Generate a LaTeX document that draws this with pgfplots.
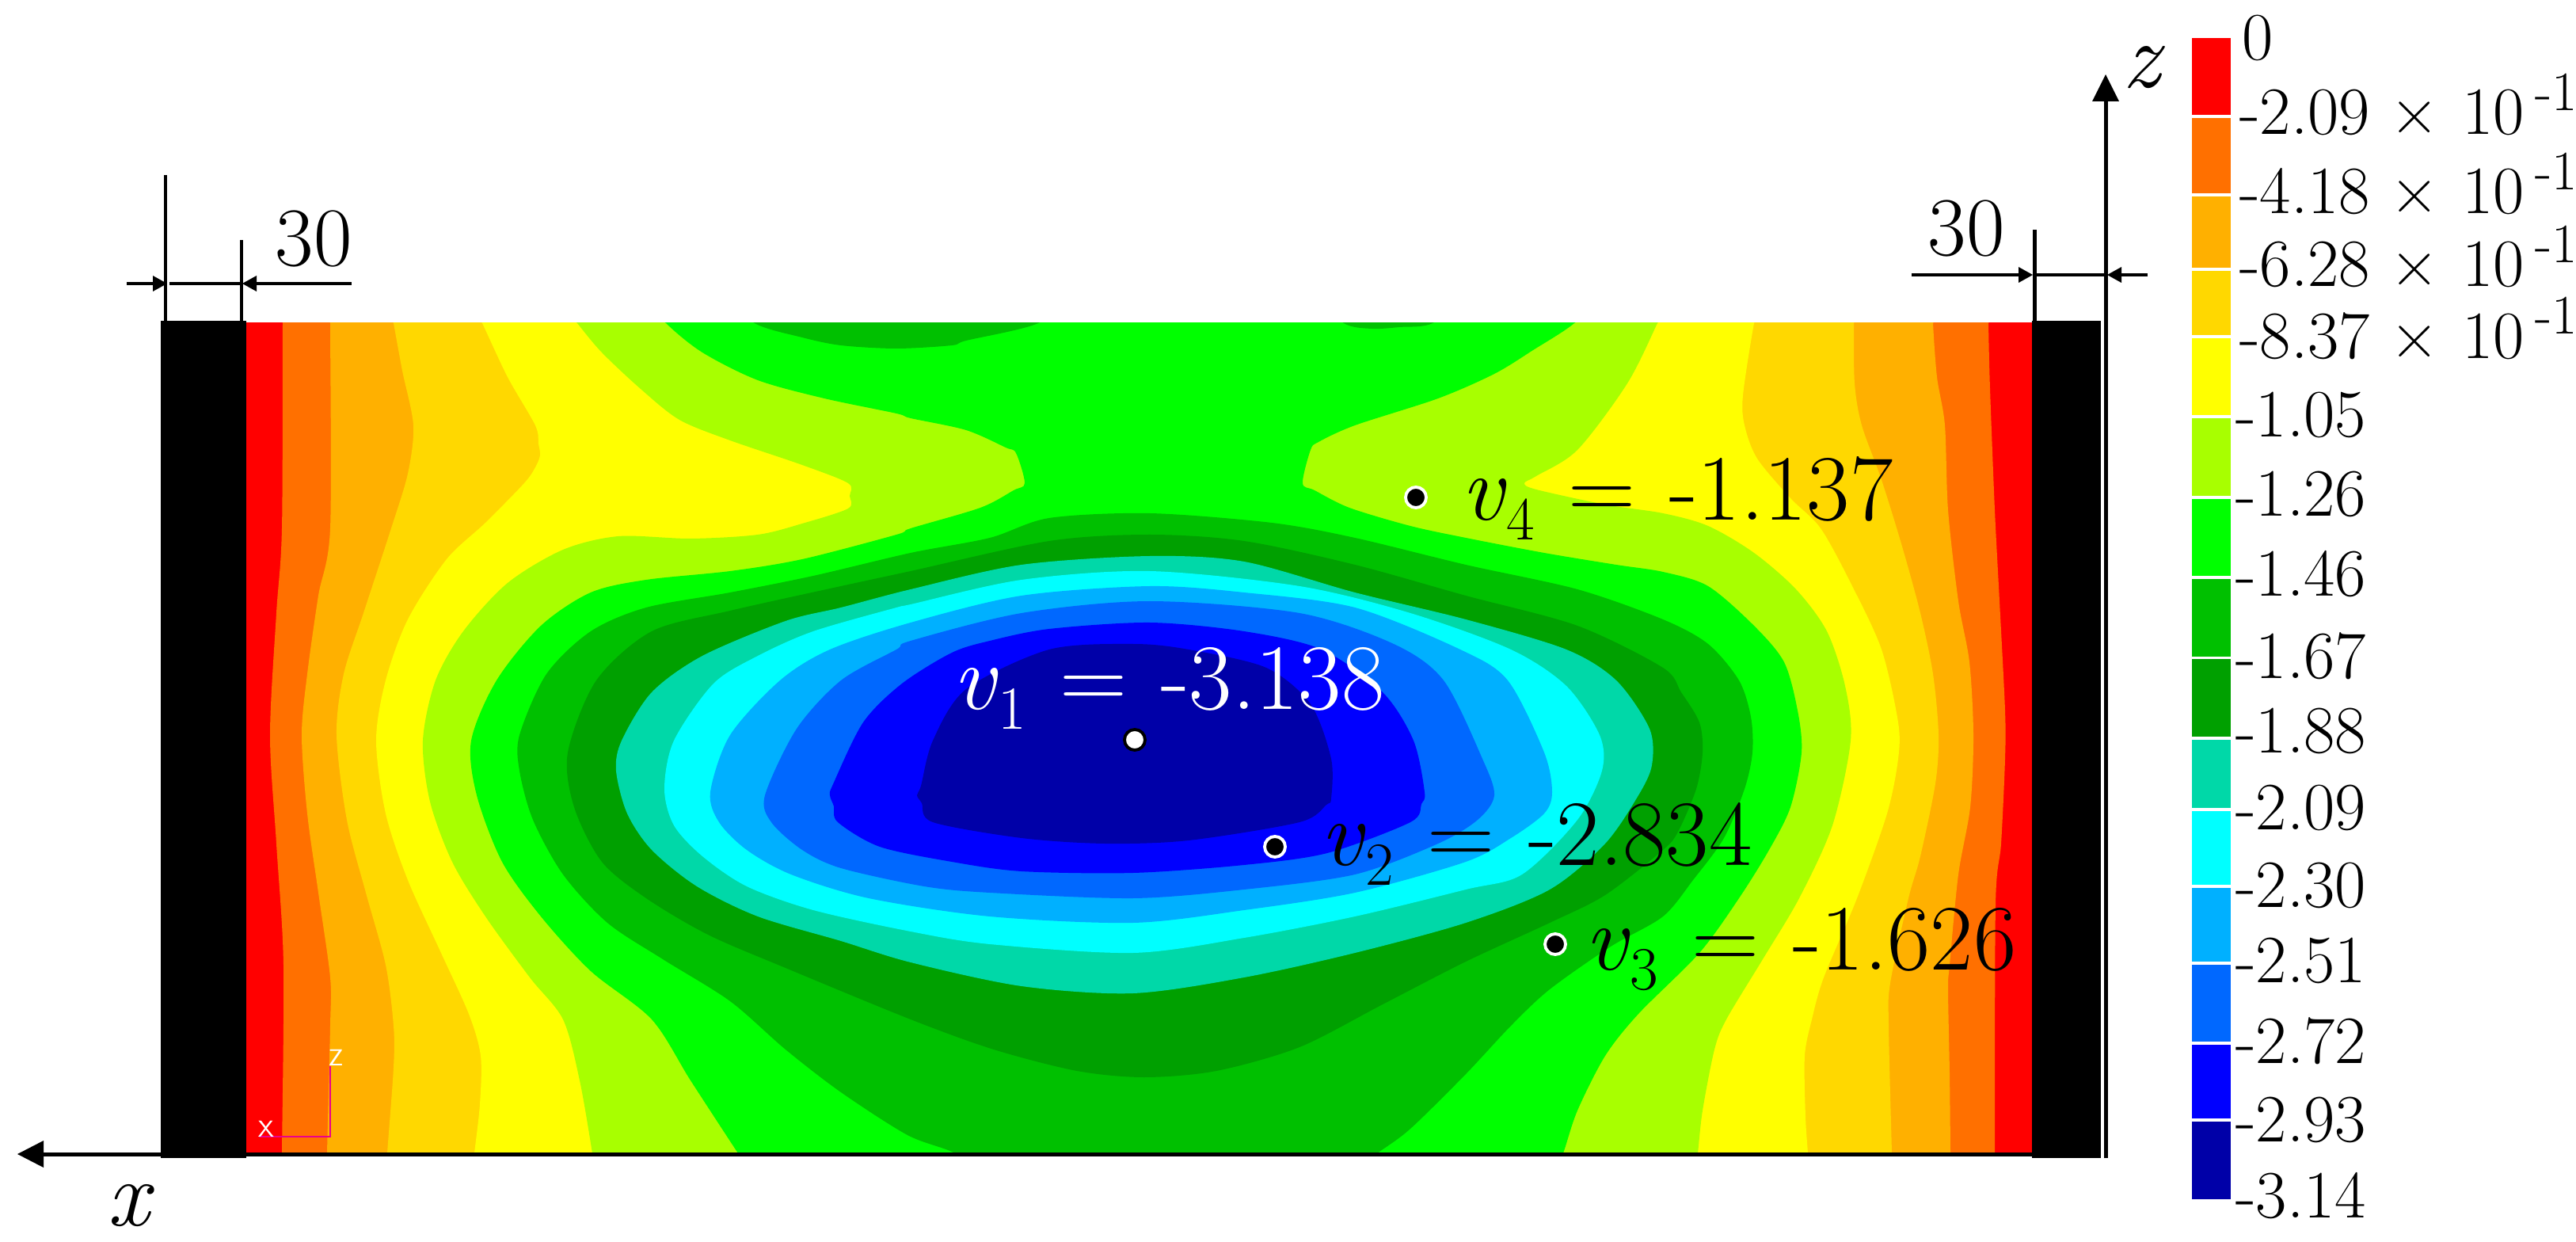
\documentclass[border=0pt]{standalone}
\usepackage{pgfplots}
\pgfplotsset{compat=1.18}
\definecolor{c01}{RGB}{255,0,0}
\definecolor{c02}{RGB}{255,112,0}
\definecolor{c03}{RGB}{255,176,0}
\definecolor{c04}{RGB}{255,216,0}
\definecolor{c05}{RGB}{255,255,0}
\definecolor{c06}{RGB}{168,255,0}
\definecolor{c07}{RGB}{0,255,0}
\definecolor{c08}{RGB}{0,192,0}
\definecolor{c09}{RGB}{0,160,0}
\definecolor{c10}{RGB}{0,216,168}
\definecolor{c11}{RGB}{0,255,255}
\definecolor{c12}{RGB}{0,176,255}
\definecolor{c13}{RGB}{0,104,255}
\definecolor{c14}{RGB}{0,0,255}
\definecolor{c15}{RGB}{0,0,168}
\newcommand{\fbig}{\fontsize{33.6}{40}\selectfont}
\newcommand{\fdim}{\fontsize{30}{36}\selectfont}
\newcommand{\fbar}{\fontsize{24.3}{29}\selectfont}
\newcommand{\tenm}{\hspace{0.3em}×\hspace{0.35em}10\hspace{0.15em}\raisebox{0.36em}{\fontsize{20}{24}\selectfont -1}}
\newcommand{\vv}[1]{\textit{v}\raisebox{-0.22em}{\fontsize{22}{26}\selectfont #1}\hspace{0.36em}=\hspace{0.36em}}
\tikzset{lab/.style={anchor=base west,inner sep=0pt,outer sep=0pt,font=\fbar,text=black}}
\pgfplotsset{reg/.style={fill=#1,draw=none,no markers,forget plot},
  con/.style={fill=#1,draw=none,no markers,forget plot,smooth cycle,tension=0.5}}
\begin{document}
\begin{tikzpicture}
\path[use as bounding box] (0,0) rectangle (32.53cm,15.68cm);
% contour field: same picture-pixel coordinates, clipped to the plate
\begin{axis}[at={(3.11cm,1.12cm)},anchor=south west,hide axis,scale only axis,width=22.56cm,height=10.48cm,
  xmin=311,xmax=2567,ymin=408,ymax=1456,y dir=reverse,clip=true]
\addplot[reg=c01] coordinates {(300,400)(2600,400)(2600,1470)(300,1470)} -- cycle;
\addplot[con=c02] coordinates {(357,370)(357,408)(356,667)(349,774)(341,928)(349,1065)(358,1218)(356,1456)(356,1490)(2519,1490)(2519,1456)(2520,1142)(2527,1065)(2532,958)(2532,897)(2525,759)(2519,644)(2513,491)(2511,408)(2511,370)};
\addplot[con=c03] coordinates {(417,370)(417,408)(417,667)(402,752)(388,851)(381,928)(388,1027)(402,1127)(417,1234)(417,1295)(413,1456)(413,1490)(2463,1490)(2463,1456)(2462,1356)(2460,1249)(2462,1218)(2473,1104)(2488,1019)(2492,928)(2487,836)(2473,759)(2460,644)(2456,537)(2446,476)(2441,408)(2441,370)};
\addplot[con=c04] coordinates {(490,370)(497,408)(508,468)(522,537)(515,598)(494,667)(459,774)(434,851)(425,928)(438,1035)(462,1127)(487,1218)(497,1295)(497,1348)(489,1456)(487,1490)(2390,1490)(2389,1456)(2385,1295)(2387,1241)(2410,1134)(2425,1081)(2444,989)(2448,928)(2441,851)(2425,774)(2402,690)(2376,606)(2351,537)(2342,484)(2341,408)(2341,370)};
\addplot[con=c05] coordinates {(590,370)(609,408)(641,476)(676,537)(680,560)(682,575)(676,590)(662,610)(613,660)(564,706)(515,782)(487,859)(475,935)(487,1027)(515,1111)(557,1203)(592,1280)(607,1333)(606,1394)(599,1456)(595,1490)(2285,1490)(2283,1456)(2280,1410)(2279,1333)(2288,1287)(2303,1234)(2345,1134)(2383,1027)(2397,958)(2397,912)(2376,820)(2337,736)(2299,667)(2261,629)(2219,579)(2203,537)(2201,499)(2215,408)(2225,370)};
\addplot[con=c06] coordinates {(700,370)(729,408)(760,445)(809,491)(858,530)(922,556)(1013,587)(1071,610)(1073,626)(1071,642)(1013,661)(957,675)(872,680)(781,677)(711,694)(641,736)(585,797)(550,859)(534,935)(543,1012)(571,1088)(613,1157)(669,1234)(711,1287)(732,1364)(748,1456)(752,1490)(2140,1490)(2144,1456)(2150,1402)(2165,1325)(2180,1287)(2226,1211)(2272,1134)(2314,1042)(2337,935)(2330,866)(2307,797)(2268,744)(2215,698)(2157,664)(2100,648)(2027,637)(1940,618)(1925,610)(1940,601)(1992,568)(2055,484)(2093,408)(2110,370)};
\addplot[con=c07] coordinates {(810,370)(841,408)(887,445)(957,480)(1041,503)(1132,522)(1150,528)(1220,543)(1270,565)(1283,572)(1294,610)(1280,619)(1238,641)(1150,667)(1132,675)(1013,706)(922,721)(816,732)(746,748)(683,790)(627,859)(595,935)(602,1004)(634,1088)(683,1157)(746,1226)(823,1287)(872,1364)(932,1456)(955,1490)(1960,1490)(1974,1456)(1992,1402)(2027,1333)(2069,1280)(2146,1203)(2196,1134)(2234,1073)(2261,1019)(2275,950)(2270,897)(2253,836)(2215,790)(2157,740)(2100,722)(2041,713)(1950,698)(1851,679)(1781,664)(1704,641)(1660,619)(1645,610)(1655,568)(1665,558)(1711,537)(1816,503)(1887,472)(1936,442)(1988,408)(2020,370)};
\addplot[con=c08] coordinates {(920,370)(953,408)(1013,426)(1062,436)(1132,440)(1202,436)(1220,430)(1311,408)(1350,370)};
\addplot[con=c08] coordinates {(1660,370)(1697,408)(1732,415)(1767,413)(1809,408)(1850,370)};
\addplot[con=c08] coordinates {(1452,648)(1325,654)(1250,679)(1150,698)(1027,727)(922,748)(816,767)(746,797)(690,851)(656,928)(656,973)(673,1035)(711,1104)(767,1165)(837,1211)(922,1264)(992,1325)(1062,1379)(1146,1433)(1206,1456)(1250,1490)(1690,1490)(1739,1456)(1781,1425)(1851,1356)(1908,1295)(1957,1249)(2034,1195)(2100,1157)(2138,1111)(2177,1058)(2203,996)(2213,950)(2211,905)(2196,859)(2157,813)(2100,782)(1992,744)(1851,713)(1711,679)(1606,660)};
\addplot[con=c09] coordinates {(1452,675)(1325,683)(1150,721)(1062,740)(922,771)(823,797)(753,859)(717,950)(725,1019)(760,1088)(816,1134)(894,1180)(992,1222)(1150,1287)(1255,1325)(1360,1352)(1445,1360)(1536,1352)(1641,1322)(1746,1268)(1851,1214)(1957,1165)(2027,1130)(2100,1073)(2119,1050)(2142,996)(2150,950)(2146,912)(2123,874)(2100,843)(1992,790)(1851,752)(1711,713)(1571,683)};
\addplot[con=c10] coordinates {(1452,702)(1290,713)(1150,744)(1062,767)(992,784)(887,828)(823,874)(785,935)(778,973)(792,1027)(823,1073)(880,1119)(957,1157)(1062,1188)(1150,1215)(1290,1245)(1431,1254)(1571,1234)(1711,1203)(1851,1165)(1957,1123)(2027,1065)(2069,1004)(2086,966)(2083,920)(2041,859)(1978,820)(1851,782)(1711,748)(1571,709)};
\addplot[con=c11] coordinates {(1452,721)(1290,732)(1150,763)(1132,767)(1027,797)(957,828)(901,863)(851,935)(839,996)(851,1042)(887,1081)(943,1119)(1027,1149)(1150,1176)(1250,1192)(1431,1203)(1571,1184)(1711,1157)(1851,1123)(1922,1104)(1992,1035)(2023,973)(2020,928)(1978,866)(1908,820)(1781,774)(1641,740)};
\addplot[con=c12] coordinates {(1452,740)(1290,752)(1150,786)(1048,820)(985,859)(922,928)(897,1000)(908,1038)(943,1073)(999,1104)(1097,1134)(1250,1157)(1431,1165)(1571,1149)(1711,1127)(1851,1088)(1908,1058)(1950,1027)(1960,1000)(1950,950)(1904,859)(1844,820)(1711,767)(1571,748)};
\addplot[con=c13] coordinates {(1452,759)(1290,774)(1150,809)(1132,820)(1062,859)(1006,920)(966,1004)(974,1038)(1013,1073)(1062,1096)(1167,1119)(1250,1127)(1431,1134)(1571,1123)(1711,1104)(1816,1065)(1866,1035)(1887,1004)(1872,958)(1823,859)(1760,813)(1641,774)};
\addplot[con=c14] coordinates {(1452,786)(1325,794)(1250,809)(1202,824)(1139,863)(1090,912)(1052,990)(1048,1004)(1053,1018)(1058,1038)(1111,1069)(1202,1088)(1290,1100)(1431,1102)(1571,1092)(1676,1077)(1781,1038)(1795,1015)(1799,1000)(1785,935)(1746,874)(1669,820)(1571,797)};
\addplot[con=c15] coordinates {(1163,992)(1158,1004)(1164,1014)(1178,1038)(1290,1058)(1395,1065)(1501,1061)(1641,1038)(1675,1016)(1681,1008)(1681,958)(1655,889)(1599,843)(1501,820)(1431,813)(1325,820)(1220,870)(1178,935)};
\end{axis}
\begin{axis}[at={(0,0)},anchor=south west,hide axis,scale only axis,width=32.53cm,height=15.68cm,
  xmin=0,xmax=3253,ymin=0,ymax=1568,y dir=reverse,clip=false]
% supports
\addplot[reg=black] coordinates {(203,405)(311,405)(311,1462)(203,1462)} -- cycle;
\addplot[reg=black] coordinates {(2566,405)(2653,405)(2653,1462)(2566,1462)} -- cycle;
% colour bar
\addplot[reg=c01] coordinates {(2768,48)(2817,48)(2817,145)(2768,145)} -- cycle;
\addplot[reg=c02] coordinates {(2768,149)(2817,149)(2817,244)(2768,244)} -- cycle;
\addplot[reg=c03] coordinates {(2768,248)(2817,248)(2817,338)(2768,338)} -- cycle;
\addplot[reg=c04] coordinates {(2768,342)(2817,342)(2817,423)(2768,423)} -- cycle;
\addplot[reg=c05] coordinates {(2768,427)(2817,427)(2817,524)(2768,524)} -- cycle;
\addplot[reg=c06] coordinates {(2768,528)(2817,528)(2817,626)(2768,626)} -- cycle;
\addplot[reg=c07] coordinates {(2768,630)(2817,630)(2817,727)(2768,727)} -- cycle;
\addplot[reg=c08] coordinates {(2768,731)(2817,731)(2817,829)(2768,829)} -- cycle;
\addplot[reg=c09] coordinates {(2768,832)(2817,832)(2817,930)(2768,930)} -- cycle;
\addplot[reg=c10] coordinates {(2768,934)(2817,934)(2817,1020)(2768,1020)} -- cycle;
\addplot[reg=c11] coordinates {(2768,1024)(2817,1024)(2817,1117)(2768,1117)} -- cycle;
\addplot[reg=c12] coordinates {(2768,1121)(2817,1121)(2817,1214)(2768,1214)} -- cycle;
\addplot[reg=c13] coordinates {(2768,1218)(2817,1218)(2817,1315)(2768,1315)} -- cycle;
\addplot[reg=c14] coordinates {(2768,1319)(2817,1319)(2817,1412)(2768,1412)} -- cycle;
\addplot[reg=c15] coordinates {(2768,1416)(2817,1416)(2817,1514)(2768,1514)} -- cycle;
\node[lab] at (axis cs:2831,76) {0};
\node[lab] at (axis cs:2828,170) {-2.09\tenm};
\node[lab] at (axis cs:2828,270) {-4.18\tenm};
\node[lab] at (axis cs:2828,362) {-6.28\tenm};
\node[lab] at (axis cs:2828,452) {-8.37\tenm};
\node[lab] at (axis cs:2823,551) {-1.05};
\node[lab] at (axis cs:2823,651) {-1.26};
\node[lab] at (axis cs:2823,752) {-1.46};
\node[lab] at (axis cs:2823,856) {-1.67};
\node[lab] at (axis cs:2823,950) {-1.88};
\node[lab] at (axis cs:2823,1047) {-2.09};
\node[lab] at (axis cs:2823,1145) {-2.30};
\node[lab] at (axis cs:2823,1240) {-2.51};
\node[lab] at (axis cs:2823,1342) {-2.72};
\node[lab] at (axis cs:2823,1441) {-2.93};
\node[lab] at (axis cs:2823,1537) {-3.14};
% triad
\draw[magenta,line width=0.55pt] (axis cs:327,1435) -- (axis cs:417,1435) -- (axis cs:417,1346);
\node[anchor=base,inner sep=0pt,text=white,font=\fontsize{8.3}{10}\selectfont\sffamily] at (axis cs:336,1435) {X};
\node[anchor=base,inner sep=0pt,text=white,font=\fontsize{8.3}{10}\selectfont\sffamily] at (axis cs:424,1345) {Z};
% axes
\draw[black,line width=1.42pt] (axis cs:50,1457) -- (axis cs:2653,1457);
\fill[black] (axis cs:22,1457) -- (axis cs:55,1440) -- (axis cs:55,1474) -- cycle;
\draw[black,line width=1.42pt] (axis cs:2659,1462) -- (axis cs:2659,120);
\fill[black] (axis cs:2659,94) -- (axis cs:2676,128) -- (axis cs:2642,128) -- cycle;
\node[anchor=base,inner sep=0pt,font=\fbig\itshape] at (axis cs:2704,111) {z};
\node[anchor=base,inner sep=0pt,font=\fbig\itshape] at (axis cs:162,1547) {x};
% dimensions
\draw[black,line width=1.14pt] (axis cs:209,221) -- (axis cs:209,405);
\draw[black,line width=1.14pt] (axis cs:305,303) -- (axis cs:305,405);
\draw[black,line width=1.14pt] (axis cs:160,358) -- (axis cs:195,358);
\fill[black] (axis cs:211,358) -- (axis cs:193,348) -- (axis cs:193,368) -- cycle;
\draw[black,line width=1.14pt] (axis cs:214,358) -- (axis cs:305,358);
\draw[black,line width=1.14pt] (axis cs:444,358) -- (axis cs:320,358);
\fill[black] (axis cs:306,358) -- (axis cs:324,348) -- (axis cs:324,368) -- cycle;
\node[anchor=base,inner sep=0pt,font=\fdim] at (axis cs:396,336) {30};
\draw[black,line width=1.42pt] (axis cs:2569,290) -- (axis cs:2569,405);
\draw[black,line width=1.14pt] (axis cs:2414,347) -- (axis cs:2552,347);
\fill[black] (axis cs:2567,347) -- (axis cs:2549,337) -- (axis cs:2549,357) -- cycle;
\draw[black,line width=1.14pt] (axis cs:2569,347) -- (axis cs:2659,347);
\draw[black,line width=1.14pt] (axis cs:2712,347) -- (axis cs:2676,347);
\fill[black] (axis cs:2661,347) -- (axis cs:2679,337) -- (axis cs:2679,357) -- cycle;
\node[anchor=base,inner sep=0pt,font=\fdim] at (axis cs:2483,323) {30};
% monitored points
\addplot[only marks,mark=*,mark size=3.7pt,mark options={fill=white,draw=black,line width=1.1pt},forget plot] coordinates {(1433,934)};
\addplot[only marks,mark=*,mark size=3.7pt,mark options={fill=black,draw=white,line width=1.1pt},forget plot] coordinates {(1610,1069)(1964,1192)(1788,628)};
\node[anchor=base west,inner sep=0pt,font=\fbig,text=white] at (axis cs:1203,895) {\vv{1}-3.138};
\node[anchor=base west,inner sep=0pt,font=\fbig] at (axis cs:1667,1092) {\vv{2}-2.834};
\node[anchor=base west,inner sep=0pt,font=\fbig] at (axis cs:2001,1224) {\vv{3}-1.626};
\node[anchor=base west,inner sep=0pt,font=\fbig] at (axis cs:1845,656) {\vv{4}-1.137};
\end{axis}
\end{tikzpicture}
\end{document}
